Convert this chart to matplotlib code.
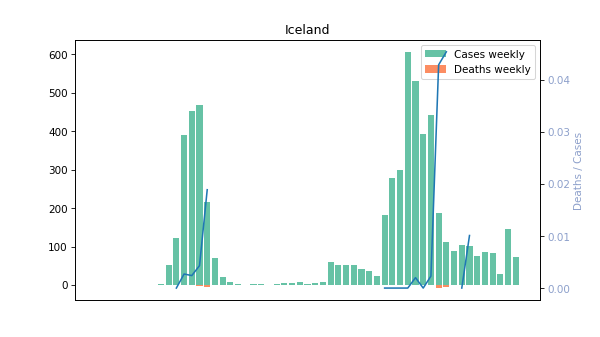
import matplotlib.pyplot as plt
import numpy as np

nan = np.nan

# weekly values (55 weeks)
cases_weekly = [0, 0, 0, 0, 0, 0, 0, 0,
                3, 52, 122, 390, 453, 468, 216, 70, 21, 8,
                2, 0, 2, 2, 0, 2, 5, 5, 8, 3,
                6, 8, 60, 52, 52, 52, 42, 36, 23, 182,
                279, 299, 606, 530, 392, 442, 187, 112, 88, 104,
                101, 75, 86, 83, 29, 145, 73]
deaths_weekly = [0, 0, 0, 0, 0, 0, 0, 0,
                 0, 0, 0, 1, 1, 2, 4, 0, 0, 0,
                 0, 0, 0, 0, 0, 0, 0, 0, 0, 0,
                 0, 0, 0, 0, 0, 0, 0, 0, 0, 0,
                 0, 0, 0, 1, 0, 1, 8, 5, 0, 0,
                 1, 0, 0, 0, 0, 0, 0]
deaths_per_case = [nan, nan, nan, nan, nan, nan, nan, nan,
                   nan, nan, 0.0, 0.0027, 0.0024, 0.0043, 0.0189, nan, nan, nan,
                   nan, nan, nan, nan, nan, nan, nan, nan, nan, nan,
                   nan, nan, nan, nan, nan, nan, nan, nan, nan, 0.0,
                   0.0, 0.0, 0.0, 0.0020, 0.0, 0.0023, 0.0429, 0.0454, nan, 0.0,
                   0.0101, nan, nan, nan, nan, nan, nan]

x = np.arange(len(cases_weekly))

fig, ax = plt.subplots(figsize=(8, 4.5), dpi=75)
ax.bar(x, cases_weekly, color='#66c2a5', label='Cases weekly')
ax.bar(x, -np.array(deaths_weekly), color='#fc8d62', label='Deaths weekly')
ax.set_xticks([])
ax.set_title('Iceland')
ax.legend(loc='upper right')

# oran ekseni
ax2 = ax.twinx()
ax2.plot(x, deaths_per_case, color='#1f77b4')
ax2.set_ylabel('Deaths / Cases', color='#8da0cb')
ax2.tick_params(axis='y', labelcolor='#8da0cb')

fig.savefig('out.png', dpi=75)
